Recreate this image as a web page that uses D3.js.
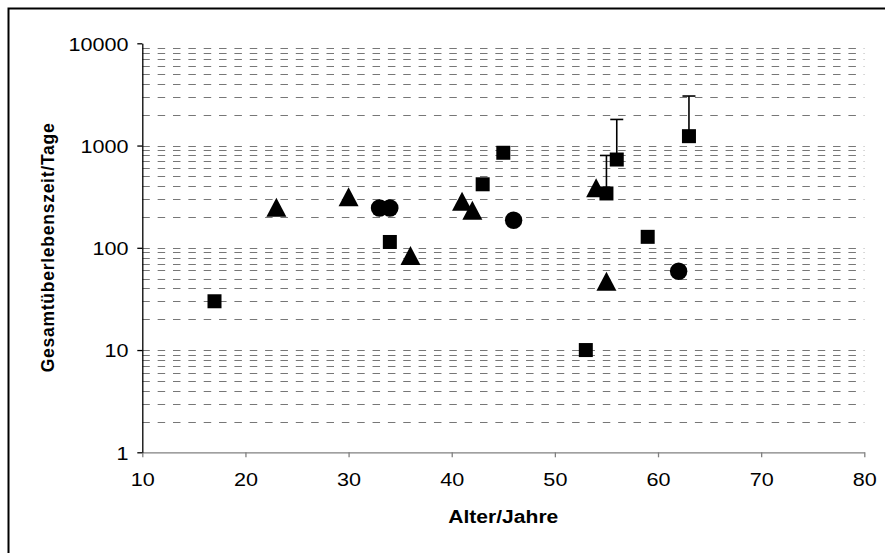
<!DOCTYPE html>
<html><head><meta charset="utf-8">
<script src="https://cdn.jsdelivr.net/npm/d3@7"></script>
<style>html,body{margin:0;padding:0;background:#fff;overflow:hidden}</style>
</head><body>
<script>
// ---- data ----
const circleAges = [33, 34, 46, 62];
const circleDays = [245, 245, 186, 59];
const triangleAges = [23, 30, 36, 41, 42, 54, 55];
const triangleDays = [249, 315, 84, 285, 233, 386, 47];
const squareAges = [17, 34, 43, 45, 53, 55, 56, 59, 63];
const squareDays = [30, 114, 418, 850, 10, 340, 730, 128, 1235];
const errorAges = [55, 56, 63];
const errorLow = [340, 730, 1235];
const errorHigh = [800, 1800, 3050];
const xTicks = [10, 20, 30, 40, 50, 60, 70, 80];
const yTicks = [1, 10, 100, 1000, 10000];
const xTitle = "Alter/Jahre";
const yTitle = "Gesamtüberlebenszeit/Tage";

const W = 885, H = 553;
const svg = d3.select("body").append("svg").attr("width", W).attr("height", H);
svg.append("rect").attr("width", W).attr("height", H).attr("fill", "#fff");
svg.append("rect").attr("x", 8.5).attr("y", 8.5).attr("width", 900).attr("height", 600)
  .attr("fill", "none").attr("stroke", "#000").attr("stroke-width", 2);

const x = d3.scaleLinear().domain([10, 80]).range([142.3, 864.3]);
const y = d3.scaleLog().domain([1, 10000]).range([452.3, 43.3]);
const font = "'Liberation Sans', Arial, sans-serif";

// gridlines (minor + major, except the top)
const gridVals = [];
for (let k = 0; k < 4; k++) for (let m = 1; m <= 9; m++) { const v = m * Math.pow(10, k); if (v > 1) gridVals.push(v); }
svg.append("g").selectAll("line").data(gridVals).join("line")
  .attr("x1", x(10)).attr("x2", x(80))
  .attr("y1", d => Math.round(y(d)) + 0.5).attr("y2", d => Math.round(y(d)) + 0.5)
  .attr("stroke", "#777").attr("stroke-width", 1.2).attr("stroke-dasharray", "7.5,7.85");

// x axis
const xAxisG = svg.append("g").attr("transform", `translate(0,${y(1)})`)
  .call(d3.axisBottom(x).tickValues(xTicks).tickSize(5).tickSizeOuter(0).tickFormat(d3.format("d")));
xAxisG.select(".domain").attr("stroke", "#808080").attr("stroke-width", 1.3);
xAxisG.selectAll(".tick line").attr("stroke", "#808080").attr("stroke-width", 1.3);
xAxisG.selectAll(".tick text").remove();
xAxisG.selectAll(".tick").append("text")
  .attr("transform", "translate(0,34) scale(1.2,1)").attr("text-anchor", "middle")
  .attr("fill", "#000").style("font-family", font).style("font-size", "18px")
  .text(d => d);

// y axis
const yAxisG = svg.append("g").attr("transform", `translate(${x(10)},0)`)
  .call(d3.axisLeft(y).tickValues(yTicks).tickSize(5).tickSizeOuter(0).tickFormat(d3.format("d")));
yAxisG.select(".domain").attr("stroke", "#000").attr("stroke-width", 1.3);
yAxisG.selectAll(".tick line").attr("stroke", "#000").attr("stroke-width", 1.3);
yAxisG.selectAll(".tick text").remove();
yAxisG.selectAll(".tick").append("text")
  .attr("transform", "translate(-13.8,6.8) scale(1.2,1)").attr("text-anchor", "end")
  .attr("fill", "#000").style("font-family", font).style("font-size", "18px")
  .text(d => d);

// titles
svg.append("text").attr("x", (x(10) + x(80)) / 2).attr("y", 522.5)
  .attr("text-anchor", "middle").attr("textLength", 110).attr("lengthAdjust", "spacingAndGlyphs")
  .style("font-family", font).style("font-size", "17.5px").style("font-weight", "bold").text(xTitle);
svg.append("text").attr("transform", `translate(53.5,${(y(1) + y(10000)) / 2}) rotate(-90)`)
  .attr("text-anchor", "middle").attr("textLength", 249).attr("lengthAdjust", "spacing")
  .style("font-family", font).style("font-size", "17.5px").style("font-weight", "bold").text(yTitle);

// error bars
const eb = svg.append("g");
errorAges.forEach((a, i) => {
  eb.append("line").attr("x1", x(a)).attr("x2", x(a)).attr("y1", y(errorLow[i])).attr("y2", y(errorHigh[i]))
    .attr("stroke", "#000").attr("stroke-width", 1.6);
  eb.append("line").attr("x1", x(a) - 6.5).attr("x2", x(a) + 6.5).attr("y1", y(errorHigh[i])).attr("y2", y(errorHigh[i]))
    .attr("stroke", "#000").attr("stroke-width", 1.6);
});

// markers
const pts = svg.append("g");
pts.selectAll("rect.sq").data(squareAges.map((a, i) => [a, squareDays[i]])).join("rect")
  .attr("x", d => x(d[0]) - 7).attr("y", d => y(d[1]) - 7).attr("width", 14).attr("height", 14).attr("fill", "#000");
pts.selectAll("path.tri").data(triangleAges.map((a, i) => [a, triangleDays[i]])).join("path")
  .attr("d", d => { const cx = x(d[0]), cy = y(d[1]); return `M${cx - 10},${cy + 9.5}L${cx + 10},${cy + 9.5}L${cx},${cy - 9.5}Z`; })
  .attr("fill", "#000");
pts.selectAll("circle").data(circleAges.map((a, i) => [a, circleDays[i]])).join("circle")
  .attr("cx", d => x(d[0])).attr("cy", d => y(d[1])).attr("r", 8.7).attr("fill", "#000");
</script>
</body></html>
